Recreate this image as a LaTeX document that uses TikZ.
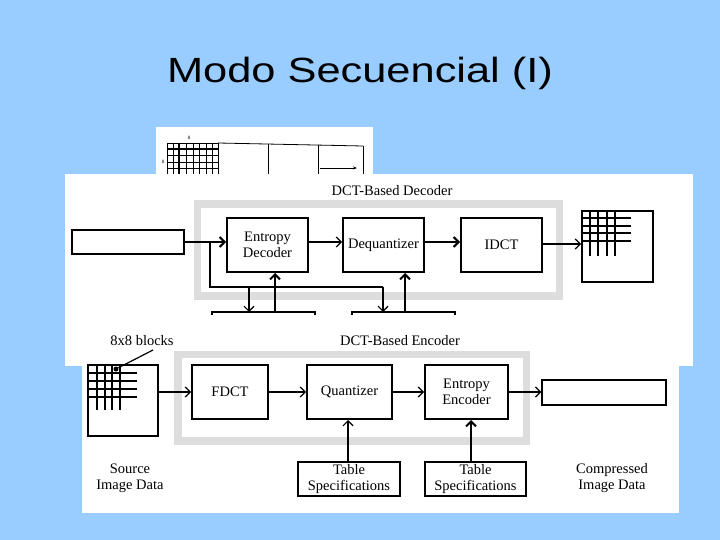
\documentclass[tikz,border=0pt]{standalone}
\usepackage{fontspec}
\usepackage{graphicx}
\setmainfont{Liberation Serif}
\newfontfamily\titlefont{Liberation Sans}
\usetikzlibrary{arrows.meta}
\definecolor{bgblue}{RGB}{153,204,255}
\definecolor{bandgray}{RGB}{221,221,221}
\begin{document}
\begin{tikzpicture}[x=1pt,y=-1pt,
  blk/.style={draw,line width=2pt,fill=white,inner sep=0pt,font=\fontsize{14.5}{16}\selectfont,align=center},
  lab/.style={font=\fontsize{14.5}{16}\selectfont,align=center,inner sep=0pt},
  arr/.style={-{Straight Barb[length=5pt,width=10pt]},line width=1.2pt},
  tarr/.style={-{Straight Barb[length=5pt,width=10pt]},line width=2pt},
  band/.style={draw=bandgray,line width=7.5pt},
  gridl/.style={line width=1.6pt},
  fine/.style={line width=0.8pt}]
\fill[bgblue] (0,0) rectangle (720,540);
\useasboundingbox (0,0) rectangle (720,540);

% title
\node[font=\titlefont\fontsize{35}{40}\selectfont,anchor=base,inner sep=0pt] (title) at (360,83) {\scalebox{1.24}[1]{Modo Secuencial (I)}};

% top small panel (behind)
\fill[white] (156,127) rectangle (373,174);
\foreach \x in {167,173,179,186,193,199,206,212,218} \draw[fine] (\x,143) -- (\x,174);
\foreach \y in {143,149,155,162,168} \draw[fine] (167,\y) -- (218,\y);
\draw[line width=1.4pt] (167,149) -- (218,149);
\draw[line width=1.4pt] (179,143) -- (179,174);
\draw[fine] (218,143) -- (363,146);
\draw[fine] (268,144) -- (268,174);
\draw[fine] (318,145) -- (318,174);
\draw[fine] (363,146) -- (363,174);
\draw[-{Stealth[length=4pt,width=3pt]},line width=0.6pt] (320,168) -- (357,168);
\node[font=\fontsize{5}{6}\selectfont,inner sep=0pt] (ea) at (189,138) {8};
\node[font=\fontsize{5}{6}\selectfont,inner sep=0pt] (eb) at (163,162) {8};

% decoder panel
\fill[white] (65,174) rectangle (693,366);
\node[lab] (dect) at (392,191) {DCT-Based Decoder};
\draw[band] (197.5,204) rectangle (559.5,296);
\node[blk,line width=1.5pt,minimum width=112pt,minimum height=24pt] (din) at (128,242) {};
\node[blk,minimum width=81pt,minimum height=54pt] (edec) at (267.5,245) {Entropy\\Decoder};
\node[blk,minimum width=81pt,minimum height=54pt] (deq) at (383.5,245) {Dequantizer};
\node[blk,minimum width=81pt,minimum height=54pt] (idct) at (501.5,245) {IDCT};
\node[blk,minimum width=71pt,minimum height=71pt] (dout) at (617.5,246.5) {};
\foreach \x in {590,598,607,615} \draw[gridl] (\x,212) -- (\x,256);
\foreach \y in {218,226,233,241} \draw[gridl] (583,\y) -- (631,\y);

\coordinate (ya) at (0,242);
\coordinate (yb) at (0,244);
\draw[tarr] (din.east) -- (din.east -| edec.west);
\draw[arr] (edec.east |- ya) -- (deq.west |- ya);
\draw[tarr] (deq.east |- ya) -- (idct.west |- ya);
\draw[arr] (idct.east |- yb) -- (dout.west |- yb);

% feedback
\coordinate (fa) at (210,242);
\coordinate (fb) at (210,287);
\coordinate (fc) at (383,287);
\coordinate (d1) at (249,287);
\coordinate (t1l) at (212,312);
\coordinate (t1r) at (315,312);
\coordinate (t2l) at (352,312);
\coordinate (t2r) at (455,312);
\coordinate (u1) at (275,312);
\coordinate (u2) at (405,312);
\draw[line width=1.2pt] (fa) -- (fb) -- (fc);
\draw[arr] (d1) -- (d1 |- t1l);
\draw[arr] (fc) -- (fc |- t2l);
\draw[line width=1.5pt] ([yshift=-4pt]t1l) -- (t1l) -- (t1r) -- ([yshift=-4pt]t1r);
\draw[line width=1.5pt] ([yshift=-4pt]t2l) -- (t2l) -- (t2r) -- ([yshift=-4pt]t2r);
\draw[tarr] (u1) -- (u1 |- edec.south);
\draw[tarr] (u2) -- (u2 |- deq.south);

% encoder panel
\fill[white] (82,315) rectangle (679,513);
\node[lab] (enct) at (400,341) {DCT-Based Encoder};
\node[lab] (blks) at (142,341) {8x8 blocks};
\draw[band] (178,354.5) rectangle (526.5,441);
\node[blk,minimum width=70pt,minimum height=71pt] (src) at (123,400.5) {};
\foreach \x in {97,105,112} \draw[gridl] (\x,365) -- (\x,410);
\draw[line width=2.2pt] (120,365) -- (120,410);
\foreach \y in {373,389,397} \draw[gridl] (89,\y) -- (137,\y);
\draw[line width=2.2pt] (89,381) -- (137,381);
\node[circle,fill=black,inner sep=0pt,minimum size=5pt] (dot) at (116,369) {};
\coordinate (lbend) at (153,350);
\draw[line width=1.2pt] (dot) -- (lbend);

\node[blk,minimum width=76pt,minimum height=54pt] (fdct) at (230,392) {FDCT};
\node[blk,minimum width=85pt,minimum height=54pt] (quant) at (349.5,392) {Quantizer};
\node[blk,minimum width=83pt,minimum height=54pt] (eenc) at (466.5,392) {Entropy\\Encoder};
\node[blk,line width=1.5pt,minimum width=124pt,minimum height=25pt] (eout) at (604,392.5) {};
\node[blk,line width=1.5pt,minimum width=102pt,minimum height=34pt] (ts1) at (349,479) {Table\\Specifications};
\node[blk,line width=1.5pt,minimum width=101pt,minimum height=34pt] (ts2) at (475.5,479) {Table\\Specifications};

\draw[arr] (fdct.west -| src.east) -- (fdct.west);
\draw[arr] (fdct) -- (quant);
\draw[arr] (quant) -- (eenc);
\draw[arr] (eenc.east) -- (eenc.east -| eout.west);
\coordinate (u3) at (348,462);
\coordinate (u4) at (471,462);
\draw[arr] (u3) -- (u3 |- quant.south);
\draw[tarr] (u4) -- (u4 |- eenc.south);

\node[lab] (srcl) at (130,478) {Source\\Image Data};
\node[lab] (cmpl) at (612,478) {Compressed\\Image Data};
\end{tikzpicture}
\end{document}
